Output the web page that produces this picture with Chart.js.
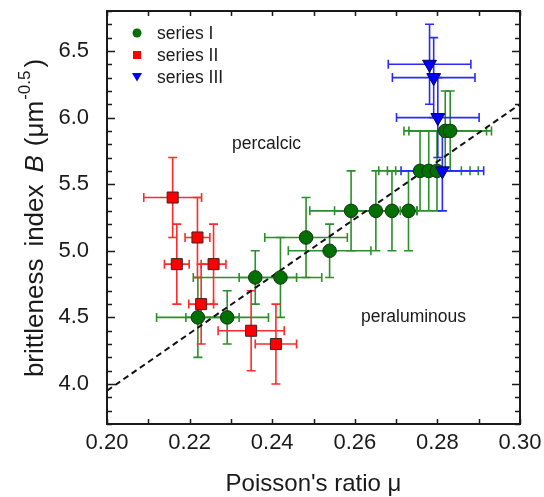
<!DOCTYPE html>
<html lang="en">
<head>
<meta charset="UTF-8">
<title>Brittleness index vs Poisson's ratio</title>
<script src="https://cdn.jsdelivr.net/npm/chart.js"></script>
<style>
  * { margin: 0; padding: 0; box-sizing: border-box; }
  body { background: #fff; width: 544px; height: 497px; overflow: hidden; }
  #chart { display: block; }
</style>
</head>
<body>
<canvas id="chart" width="544" height="497"></canvas>
<script>
  // series I (green circles)
  const mu1 = [0.2220, 0.2291, 0.2359, 0.2420, 0.2482, 0.2539, 0.2591, 0.2651, 0.2690, 0.2730, 0.2758, 0.2779, 0.2799, 0.2819, 0.2831];
  const b1 = [4.5, 4.5, 4.8, 4.8, 5.1, 5.0, 5.3, 5.3, 5.3, 5.3, 5.6, 5.6, 5.6, 5.9, 5.9];
  const muErrLo1 = [0.01, 0.01, 0.015, 0.01, 0.01, 0.01, 0.01, 0.01, 0.004, 0.002, 0.01, 0.01, 0.01, 0.01, 0.01];
  const muErrHi1 = [0.01, 0.01, 0.01, 0.01, 0.01, 0.01, 0.01, 0.01, 0.004, 0.002, 0.01, 0.01, 0.01, 0.01, 0.01];
  const bErr1 = [0.3, 0.2, 0.2, 0.3, 0.3, 0.2, 0.3, 0.3, 0.3, 0.3, 0.3, 0.3, 0.3, 0.3, 0.3];

  // series II (red squares)
  const mu2 = [0.2159, 0.2219, 0.2169, 0.2258, 0.2228, 0.2349, 0.2409];
  const b2 = [5.4, 5.1, 4.9, 4.9, 4.6, 4.4, 4.3];
  const muErr2 = [0.007, 0.003, 0.003, 0.003, 0.003, 0.008, 0.005];
  const bErr2 = [0.3, 0.3, 0.3, 0.3, 0.3, 0.3, 0.3];

  // series III (blue triangles)
  const mu3 = [0.2781, 0.2791, 0.2801, 0.2812];
  const b3 = [6.4, 6.3, 6.0, 5.6];
  const muErr3 = [0.01, 0.01, 0.01, 0.01];
  const bErr3 = [0.3, 0.3, 0.3, 0.3];

  // dashed guide line
  const fitMu = [0.20, 0.30];
  const fitB = [3.95, 6.10];

  const seriesNames = ['series I', 'series II', 'series III'];
  const FONT = "'Liberation Sans', Arial, sans-serif";
  const TEXT = '#1a1a1a';

  const pts = (xs, ys) => xs.map((x, i) => ({ x: x, y: ys[i] }));

  const errorSets = [
    { xs: mu1, ys: b1, lo: muErrLo1, hi: muErrHi1, dy: bErr1, color: '#2b8f2b' },
    { xs: mu2, ys: b2, lo: muErr2, hi: muErr2, dy: bErr2, color: '#ff2a2a' },
    { xs: mu3, ys: b3, lo: muErr3, hi: muErr3, dy: bErr3, color: '#2a2aff' }
  ];

  const errorBars = {
    id: 'errorBars',
    beforeDatasetsDraw(chart) {
      const { ctx, scales: { x, y } } = chart;
      const cap = 4.5;
      ctx.save();
      ctx.lineWidth = 1.6;
      errorSets.forEach(s => {
        ctx.strokeStyle = s.color;
        s.xs.forEach((v, i) => {
          const px = x.getPixelForValue(v), py = y.getPixelForValue(s.ys[i]);
          const x0 = x.getPixelForValue(v - s.lo[i]), x1 = x.getPixelForValue(v + s.hi[i]);
          const y0 = y.getPixelForValue(s.ys[i] - s.dy[i]), y1 = y.getPixelForValue(s.ys[i] + s.dy[i]);
          ctx.beginPath();
          ctx.moveTo(x0, py); ctx.lineTo(x1, py);
          ctx.moveTo(x0, py - cap); ctx.lineTo(x0, py + cap);
          ctx.moveTo(x1, py - cap); ctx.lineTo(x1, py + cap);
          ctx.moveTo(px, y0); ctx.lineTo(px, y1);
          ctx.moveTo(px - cap, y0); ctx.lineTo(px + cap, y0);
          ctx.moveTo(px - cap, y1); ctx.lineTo(px + cap, y1);
          ctx.stroke();
        });
      });
      ctx.restore();
    }
  };

  function marker(ctx, style, cx, cy, r, fill) {
    ctx.beginPath();
    if (style === 'circle') {
      ctx.arc(cx, cy, r, 0, Math.PI * 2);
    } else if (style === 'rect') {
      ctx.rect(cx - r, cy - r, 2 * r, 2 * r);
    } else {
      ctx.moveTo(cx - r, cy - r * 0.8);
      ctx.lineTo(cx + r, cy - r * 0.8);
      ctx.lineTo(cx, cy + r * 0.9);
      ctx.closePath();
    }
    ctx.fillStyle = fill;
    ctx.fill();
  }

  const frame = {
    id: 'frame',
    afterDraw(chart) {
      const { ctx, chartArea: a, scales: { x, y } } = chart;
      ctx.save();
      ctx.strokeStyle = TEXT;
      ctx.lineWidth = 1.5;
      ctx.beginPath();
      x.ticks.forEach(t => {
        const px = Math.round(x.getPixelForValue(t.value)) + 0.5;
        ctx.moveTo(px, a.bottom); ctx.lineTo(px, a.bottom - 5);
        ctx.moveTo(px, a.top); ctx.lineTo(px, a.top + 5);
      });
      y.ticks.forEach(t => {
        const py = Math.round(y.getPixelForValue(t.value)) + 0.5;
        const len = Math.round(t.value * 10) % 5 === 0 ? 8 : 5;
        ctx.moveTo(a.left, py); ctx.lineTo(a.left + len, py);
        ctx.moveTo(a.right, py); ctx.lineTo(a.right - len, py);
      });
      ctx.stroke();
      ctx.lineWidth = 2;
      ctx.strokeRect(a.left, a.top, a.right - a.left, a.bottom - a.top);

      // legend
      const legend = [
        { style: 'circle', fill: '#007000', r: 4.5 },
        { style: 'rect', fill: '#ff0000', r: 4 },
        { style: 'triangle', fill: '#0000ff', r: 5 }
      ];
      ctx.font = '17.5px ' + FONT;
      ctx.textBaseline = 'middle';
      legend.forEach((l, i) => {
        const ly = 33 + i * 22;
        marker(ctx, l.style, 137, ly, l.r, l.fill);
        ctx.fillStyle = TEXT;
        ctx.fillText(seriesNames[i], 157, ly + 1);
      });

      // region labels
      ctx.fillText('percalcic', 232, 144);
      ctx.fillText('peraluminous', 361, 317);

      // x title
      ctx.font = '24px ' + FONT;
      ctx.textAlign = 'center';
      ctx.textBaseline = 'alphabetic';
      ctx.fillText("Poisson's ratio \u03bc", (a.left + a.right) / 2, 491);

      // y title with italic B and superscript (words spaced a little wider)
      const parts = [
        { t: 'brittleness', f: '26px ' + FONT, dy: 0, gap: 12 },
        { t: 'index', f: '26px ' + FONT, dy: 0, gap: 12 },
        { t: 'B', f: 'italic 26px ' + FONT, dy: 0, gap: 9 },
        { t: '(\u03bcm', f: '26px ' + FONT, dy: 0, gap: 1 },
        { t: '-0.5', f: '17px ' + FONT, dy: -13, gap: 3 },
        { t: ')', f: '26px ' + FONT, dy: 0, gap: 0 }
      ];
      let total = 0;
      parts.forEach(p => { ctx.font = p.f; p.w = ctx.measureText(p.t).width; total += p.w + p.gap; });
      ctx.translate(43, 218);
      ctx.rotate(-Math.PI / 2);
      ctx.textAlign = 'left';
      let cx = -total / 2;
      parts.forEach(p => {
        ctx.font = p.f;
        ctx.fillText(p.t, cx, p.dy);
        cx += p.w + p.gap;
      });
      ctx.restore();
    }
  };

  new Chart(document.getElementById('chart'), {
    type: 'scatter',
    data: {
      datasets: [
        {
          label: seriesNames[2], data: pts(mu3, b3), order: 1,
          pointStyle: 'triangle', rotation: 180, radius: 8, hoverRadius: 8,
          backgroundColor: '#0000ff', borderColor: '#000050', borderWidth: 1
        },
        {
          label: seriesNames[1], data: pts(mu2, b2), order: 2,
          pointStyle: 'rect', radius: 7.8, hoverRadius: 7.8,
          backgroundColor: '#ff0000', borderColor: '#402020', borderWidth: 1
        },
        {
          label: seriesNames[0], data: pts(mu1, b1), order: 3,
          pointStyle: 'circle', radius: 6.8, hoverRadius: 6.8,
          backgroundColor: '#007000', borderColor: '#1c331c', borderWidth: 1
        },
        {
          label: 'fit', type: 'line', data: pts(fitMu, fitB), order: 4,
          borderColor: '#111', borderWidth: 2, borderDash: [6, 4],
          pointRadius: 0, fill: false, showLine: true
        }
      ]
    },
    options: {
      responsive: false,
      animation: false,
      devicePixelRatio: 1,
      layout: { padding: { top: 11, right: 24, left: 0, bottom: 0 } },
      plugins: { legend: { display: false }, tooltip: { enabled: false } },
      scales: {
        x: {
          type: 'linear', min: 0.2, max: 0.3,
          grid: { display: false, drawTicks: false },
          border: { display: false },
          ticks: {
            stepSize: 0.01, autoSkip: false, maxRotation: 0, padding: 6,
            color: TEXT, font: { family: FONT, size: 22 },
            callback: v => Math.round(v * 100) % 2 === 0 ? v.toFixed(2) : ''
          },
          afterFit(s) { s.height = 73; s.paddingLeft = 0; s.paddingRight = 0; }
        },
        y: {
          type: 'linear', min: 3.7, max: 6.8,
          grid: { display: false, drawTicks: false },
          border: { display: false },
          ticks: {
            stepSize: 0.1, autoSkip: false, padding: 18,
            color: TEXT, font: { family: FONT, size: 22 },
            callback: v => Math.round(v * 10) % 5 === 0 ? v.toFixed(1) : ''
          },
          afterFit(s) { s.width = 107; s.paddingTop = 0; s.paddingBottom = 0; }
        }
      }
    },
    plugins: [errorBars, frame]
  });
</script>
</body>
</html>
